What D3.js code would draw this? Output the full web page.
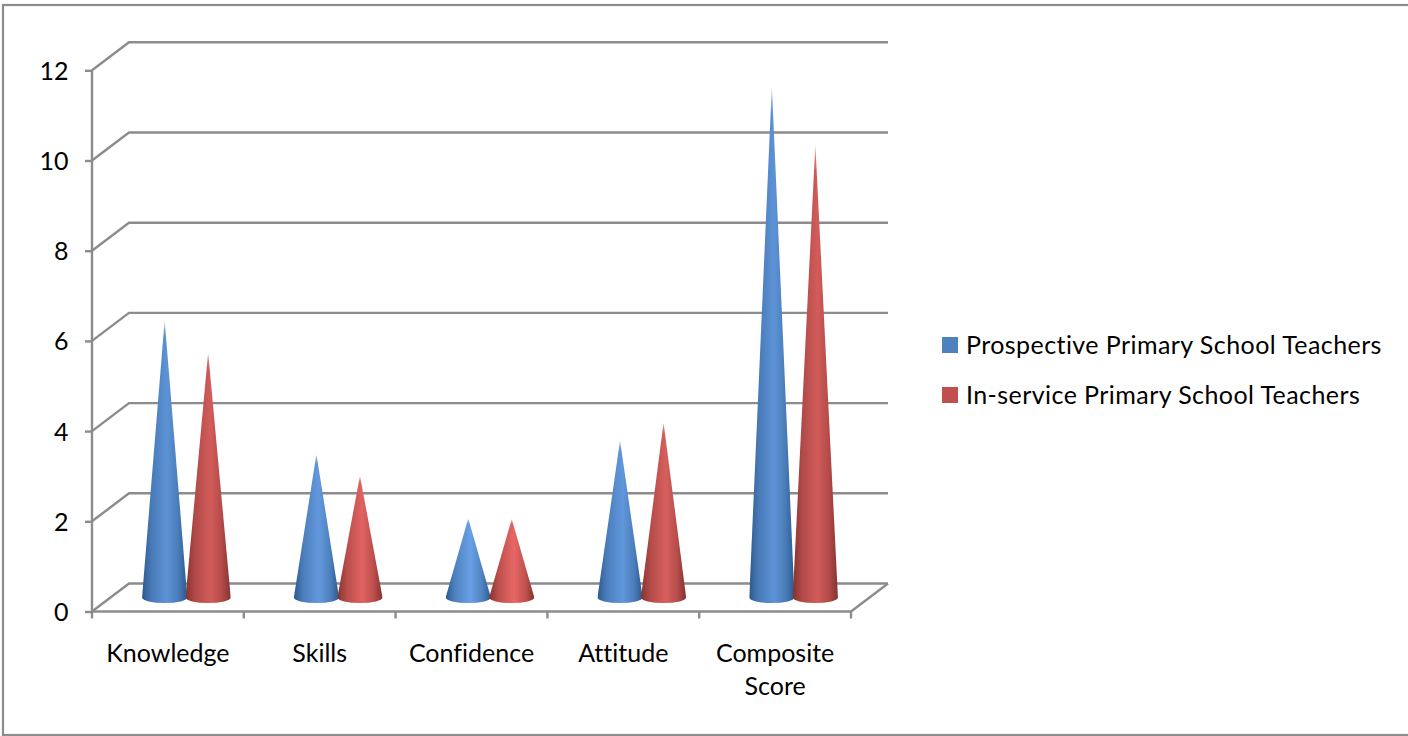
<!DOCTYPE html>
<html>
<head>
<meta charset="utf-8">
<style>
html,body{margin:0;padding:0;background:#fff;overflow:hidden}
text{font-family:Lato,"Open Sans",sans-serif;fill:#000;font-variant-ligatures:none}
</style>
<script src="https://cdn.jsdelivr.net/npm/d3@7/dist/d3.min.js"></script>
</head>
<body>
<svg id="chart" width="1408" height="736"></svg>
<script>
const categories = ["Knowledge", "Skills", "Confidence", "Attitude", "Composite Score"];
const seriesNames = ["Prospective Primary School Teachers", "In-service Primary School Teachers"];
const prospective = [6.15, 3.18, 1.75, 3.48, 11.35];
const inService = [5.43, 2.7, 1.74, 3.88, 10.05];
const yTicks = [0, 2, 4, 6, 8, 10, 12];

const legendColors = ["#4f81bd", "#c0504d"];
const lineColor = "#8c8c8c";

const svg = d3.select("#chart");
const defs = svg.append("defs");

// Oblique projection of the 3D box: front plane, floor depth.
const depthX = 37, depthY = -28;
const x = d3.scaleBand().domain(categories).range([92, 851]).padding(0);
const y = d3.scaleLinear().domain([0, 12]).range([611.5, 70.3]);
const coneRadius = 22.6, baseRy = 5.5;
const coneOffset = 21.75;

// Outer frame, open on the right where it leaves the page
svg.append("rect").attr("x", 3).attr("y", 5).attr("width", 1430).attr("height", 730)
  .attr("fill", "#fff").attr("stroke", lineColor).attr("stroke-width", 2.2);

// Back wall gridlines and their diagonals along the left wall
const grid = svg.append("g").attr("fill", "none").attr("stroke", lineColor).attr("stroke-width", 2.4);
yTicks.forEach(t => {
  const p = d3.path();
  p.moveTo(92, y(t));
  p.lineTo(92 + depthX, y(t) + depthY);
  p.lineTo(851 + depthX, y(t) + depthY);
  grid.append("path").attr("d", p.toString());
});
// Floor edge closing on the right
const floor = d3.path();
floor.moveTo(851, y(0));
floor.lineTo(851 + depthX, y(0) + depthY);
grid.append("path").attr("d", floor.toString());

// Axes
const yAxis = d3.axisLeft(y).tickValues(yTicks).tickSize(7).tickPadding(16.5).tickFormat(d3.format("d"));
const xAxis = d3.axisBottom(x).tickSize(0).tickFormat("");
const yG = svg.append("g").attr("transform", "translate(92,0)").call(yAxis);
const xG = svg.append("g").attr("transform", `translate(0,${y(0)})`).call(xAxis);
yG.selectAll("path.domain").attr("d", `M0,${y(12)}V${y(0)}`);
xG.selectAll("path.domain").attr("d", "M92,0H851");
svg.selectAll(".domain,.tick line").attr("stroke", lineColor).attr("stroke-width", 2.4);
yG.selectAll("text").attr("font-size", 25).attr("dy", "0.36em").attr("fill", "#000");

// Category boundary ticks below the floor
const boundaries = categories.map(c => x(c)).concat([x.range()[1]]);
xG.selectAll("line.boundary").data(boundaries).join("line").attr("class", "boundary")
  .attr("x1", d => d).attr("x2", d => d).attr("y1", 0).attr("y2", 7)
  .attr("stroke", lineColor).attr("stroke-width", 2.4);

// Category labels; the long one breaks over two lines
const labelG = svg.append("g").attr("font-size", 25).attr("text-anchor", "middle");
categories.forEach(c => {
  const cx = x(c) + x.bandwidth() / 2;
  const lines = c === "Composite Score" ? c.split(" ") : [c];
  lines.forEach((ln, i) => {
    labelG.append("text").attr("x", cx).attr("y", 662 + i * 33).text(ln);
  });
});

// Cone shading: a side-lit horizontal ramp, with the apex fading out
const ramps = [
  {dark: "#2c5a8e", mid: "#5d93d6", bright: "#70a8ee"},
  {dark: "#853230", mid: "#d25c5a", bright: "#f46e6c"}
];
const maxV = d3.max(prospective.concat(inService));
const mask = defs.append("mask").attr("id", "apexFade")
  .attr("maskContentUnits", "objectBoundingBox").attr("maskUnits", "objectBoundingBox")
  .attr("x", 0).attr("y", 0).attr("width", 1).attr("height", 1);
const fade = defs.append("linearGradient").attr("id", "apexFadeRamp").attr("x1", 0).attr("x2", 0).attr("y1", 0).attr("y2", 1);
fade.append("stop").attr("offset", 0).attr("stop-color", "#fff").attr("stop-opacity", 0.3);
fade.append("stop").attr("offset", 0.03).attr("stop-color", "#fff").attr("stop-opacity", 0.8);
fade.append("stop").attr("offset", 0.06).attr("stop-color", "#fff").attr("stop-opacity", 1);
fade.append("stop").attr("offset", 1).attr("stop-color", "#fff").attr("stop-opacity", 1);
mask.append("rect").attr("width", 1).attr("height", 1).attr("fill", "url(#apexFadeRamp)");

function coneGradient(id, s, v) {
  const r = ramps[s];
  const centre = d3.interpolateRgb(r.bright, r.mid)(Math.min(1, v / (maxV * 0.4)));
  const g = defs.append("linearGradient").attr("id", id).attr("x1", 0).attr("x2", 1).attr("y1", 0).attr("y2", 0);
  [[0, r.dark], [0.2, d3.interpolateRgb(r.dark, centre)(0.55)], [0.55, centre],
   [0.8, d3.interpolateRgb(r.dark, centre)(0.6)], [1, r.dark]].forEach(([o, col]) => {
    g.append("stop").attr("offset", o).attr("stop-color", col);
  });
}

// Cones stand on the middle of the floor, halfway back along the depth
const midX = depthX / 2, midY = depthY / 2;
const conePath = (cx, v) => {
  const base = y(0) + midY, tip = y(v) + midY;
  return `M${cx},${tip}L${cx - coneRadius},${base}` +
    `A${coneRadius},${baseRy} 0 0 0 ${cx + coneRadius},${base}Z`;
};
const cones = svg.append("g");
[prospective, inService].forEach((vals, s) => {
  vals.forEach((v, i) => {
    const id = `cone-${s}-${i}`;
    coneGradient(id, s, v);
    const cx = x(categories[i]) + x.bandwidth() / 2 + midX + (s === 0 ? -coneOffset : coneOffset);
    cones.append("path").attr("d", conePath(cx, v))
      .attr("fill", `url(#${id})`).attr("mask", "url(#apexFade)");
  });
});

// Legend
const legend = svg.append("g");
seriesNames.forEach((name, i) => {
  const top = 337 + i * 50;
  legend.append("rect").attr("x", 942).attr("y", top).attr("width", 16).attr("height", 16).attr("fill", legendColors[i]);
  legend.append("text").attr("x", 966).attr("y", top + 17).attr("font-size", 25)
    .attr("letter-spacing", 0.43).text(name);
});
</script>
</body>
</html>
